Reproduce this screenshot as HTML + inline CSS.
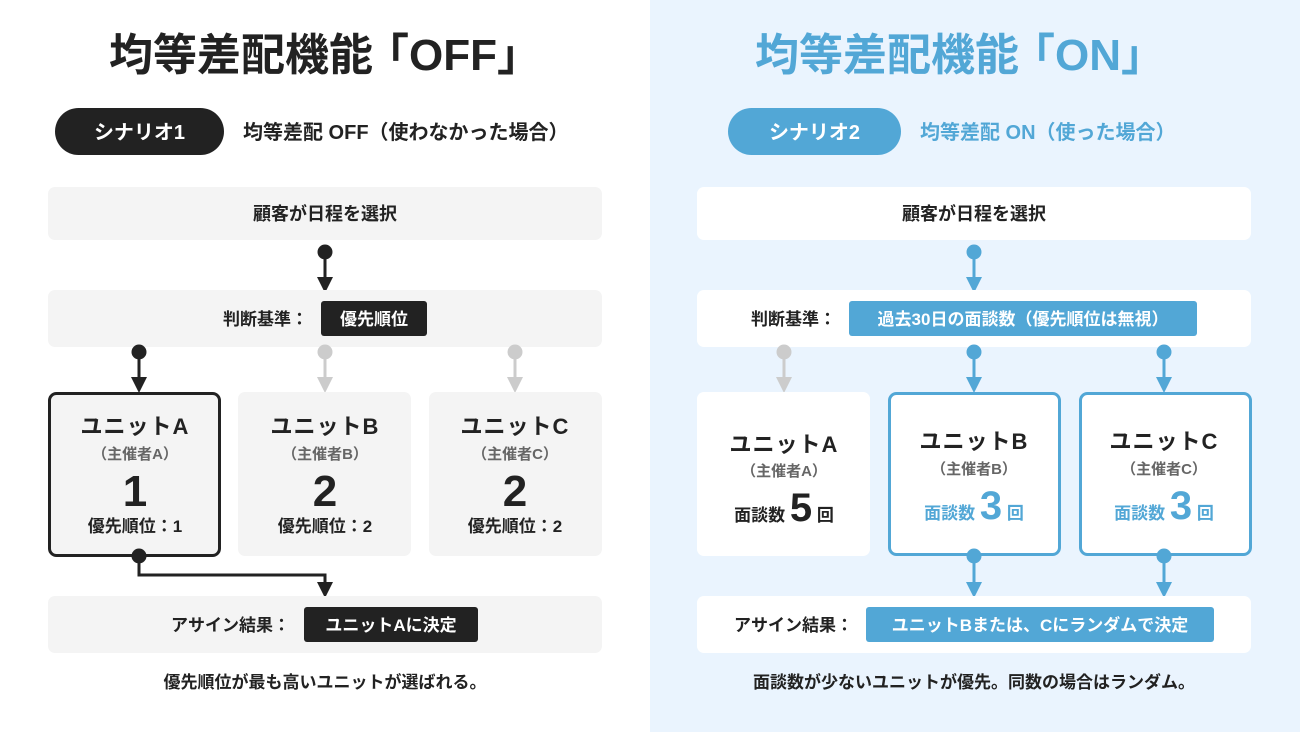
<!DOCTYPE html>
<html><head><meta charset="utf-8"><style>
html,body{margin:0;padding:0;width:1300px;height:732px;overflow:hidden;background:#fff}
svg text{font-family:"Liberation Sans","Noto Sans CJK JP",sans-serif;font-weight:700}
</style></head><body>
<svg width="1300" height="732" viewBox="0 0 1300 732" xmlns="http://www.w3.org/2000/svg">
<rect x="0" y="0" width="650" height="732" fill="#fff"/>
<rect x="650" y="0" width="650" height="732" fill="#eaf4fe"/>

<!-- LEFT -->
<text x="325" y="70" font-size="44" text-anchor="middle" fill="#222">均等差配機能<tspan dx="-8">「OFF」</tspan></text>
<rect x="55" y="108" width="169" height="47" rx="23.5" fill="#222"/>
<text x="139.5" y="139" font-size="20" text-anchor="middle" fill="#fff">シナリオ1</text>
<text x="243" y="139" font-size="20" fill="#222">均等差配 OFF（使わなかった場合）</text>

<rect x="48" y="187" width="554" height="53" rx="7" fill="#f4f4f4"/>
<text x="325" y="220" font-size="18" text-anchor="middle" fill="#222">顧客が日程を選択</text>
<circle cx="325" cy="252" r="7.5" fill="#222"/>
<line x1="325" y1="252" x2="325" y2="280" stroke="#222" stroke-width="3"/>
<path d="M317 277L333 277L325 293Z" fill="#222"/>

<rect x="48" y="290" width="554" height="57" rx="7" fill="#f4f4f4"/>
<text x="308" y="325" font-size="17" text-anchor="end" fill="#222">判断基準：</text>
<rect x="321" y="301" width="106" height="35" rx="3" fill="#222"/>
<text x="374" y="325" font-size="17" text-anchor="middle" fill="#fff">優先順位</text>

<g>
<circle cx="139" cy="352" r="7.5" fill="#222"/><line x1="139" y1="352" x2="139" y2="380" stroke="#222" stroke-width="3"/><path d="M131 377L147 377L139 393Z" fill="#222"/>
<circle cx="325" cy="352" r="7.5" fill="#ccc"/><line x1="325" y1="352" x2="325" y2="380" stroke="#ccc" stroke-width="3"/><path d="M317 377L333 377L325 393Z" fill="#ccc"/>
<circle cx="515" cy="352" r="7.5" fill="#ccc"/><line x1="515" y1="352" x2="515" y2="380" stroke="#ccc" stroke-width="3"/><path d="M507 377L523 377L515 393Z" fill="#ccc"/>
</g>

<rect x="49.5" y="393.5" width="170" height="162" rx="7" fill="#f4f4f4" stroke="#222" stroke-width="3"/>
<rect x="238" y="392" width="173" height="164" rx="7" fill="#f4f4f4"/>
<rect x="429" y="392" width="173" height="164" rx="7" fill="#f4f4f4"/>
<g fill="#222" text-anchor="middle">
<text x="135" y="434" font-size="22" letter-spacing="1">ユニットA</text>
<text x="135" y="459" font-size="15" fill="#666">（主催者A）</text>
<text x="135" y="506" font-size="44">1</text>
<text x="135" y="532" font-size="17">優先順位：1</text>
<text x="325" y="434" font-size="22" letter-spacing="1">ユニットB</text>
<text x="325" y="459" font-size="15" fill="#666">（主催者B）</text>
<text x="325" y="506" font-size="44">2</text>
<text x="325" y="532" font-size="17">優先順位：2</text>
<text x="515" y="434" font-size="22" letter-spacing="1">ユニットC</text>
<text x="515" y="459" font-size="15" fill="#666">（主催者C）</text>
<text x="515" y="506" font-size="44">2</text>
<text x="515" y="532" font-size="17">優先順位：2</text>
</g>
<circle cx="139" cy="556" r="7.5" fill="#222"/>
<polyline points="139,556 139,575 325,575 325,586" fill="none" stroke="#222" stroke-width="3"/>
<path d="M317 582L333 582L325 598Z" fill="#222"/>

<rect x="48" y="596" width="554" height="57" rx="7" fill="#f4f4f4"/>
<text x="290" y="631" font-size="17" text-anchor="end" fill="#222">アサイン結果：</text>
<rect x="304" y="607" width="174" height="35" rx="3" fill="#222"/>
<text x="391" y="631" font-size="17" text-anchor="middle" fill="#fff">ユニットAに決定</text>
<text x="325" y="688" font-size="17" text-anchor="middle" fill="#222">優先順位が最も高いユニットが選ばれる。</text>

<!-- RIGHT -->
<text x="960" y="70" font-size="44" text-anchor="middle" fill="#52a7d6">均等差配機能<tspan dx="-8">「ON」</tspan></text>
<rect x="728" y="108" width="173" height="47" rx="23.5" fill="#52a7d6"/>
<text x="814.5" y="139" font-size="20" text-anchor="middle" fill="#fff">シナリオ2</text>
<text x="920" y="139" font-size="20" fill="#52a7d6">均等差配 ON（使った場合）</text>

<rect x="697" y="187" width="554" height="53" rx="7" fill="#fff"/>
<text x="974" y="220" font-size="18" text-anchor="middle" fill="#222">顧客が日程を選択</text>
<circle cx="974" cy="252" r="7.5" fill="#52a7d6"/>
<line x1="974" y1="252" x2="974" y2="280" stroke="#52a7d6" stroke-width="3"/>
<path d="M966 277L982 277L974 293Z" fill="#52a7d6"/>

<rect x="697" y="290" width="554" height="57" rx="7" fill="#fff"/>
<text x="836" y="325" font-size="17" text-anchor="end" fill="#222">判断基準：</text>
<rect x="849" y="301" width="348" height="35" rx="3" fill="#52a7d6"/>
<text x="1023" y="325" font-size="17" text-anchor="middle" fill="#fff">過去30日の面談数（優先順位は無視）</text>

<circle cx="784" cy="352" r="7.5" fill="#ccc"/><line x1="784" y1="352" x2="784" y2="380" stroke="#ccc" stroke-width="3"/><path d="M776 377L792 377L784 393Z" fill="#ccc"/>
<circle cx="974" cy="352" r="7.5" fill="#52a7d6"/><line x1="974" y1="352" x2="974" y2="380" stroke="#52a7d6" stroke-width="3"/><path d="M966 377L982 377L974 393Z" fill="#52a7d6"/>
<circle cx="1164" cy="352" r="7.5" fill="#52a7d6"/><line x1="1164" y1="352" x2="1164" y2="380" stroke="#52a7d6" stroke-width="3"/><path d="M1156 377L1172 377L1164 393Z" fill="#52a7d6"/>

<rect x="697" y="392" width="173" height="164" rx="7" fill="#fff"/>
<rect x="889.5" y="393.5" width="170" height="161" rx="7" fill="#fff" stroke="#52a7d6" stroke-width="3"/>
<rect x="1080.5" y="393.5" width="170" height="161" rx="7" fill="#fff" stroke="#52a7d6" stroke-width="3"/>
<g text-anchor="middle">
<text x="784" y="452" font-size="22" fill="#222" letter-spacing="1">ユニットA</text>
<text x="784" y="476" font-size="15" fill="#666">（主催者A）</text>
<text x="784" y="521" fill="#222"><tspan font-size="17">面談数 </tspan><tspan font-size="40">5</tspan><tspan font-size="17"> 回</tspan></text>
<text x="974" y="449" font-size="22" fill="#222" letter-spacing="1">ユニットB</text>
<text x="974" y="474" font-size="15" fill="#666">（主催者B）</text>
<text x="974" y="519" fill="#52a7d6"><tspan font-size="17">面談数 </tspan><tspan font-size="40">3</tspan><tspan font-size="17"> 回</tspan></text>
<text x="1164" y="449" font-size="22" fill="#222" letter-spacing="1">ユニットC</text>
<text x="1164" y="474" font-size="15" fill="#666">（主催者C）</text>
<text x="1164" y="519" fill="#52a7d6"><tspan font-size="17">面談数 </tspan><tspan font-size="40">3</tspan><tspan font-size="17"> 回</tspan></text>
</g>
<circle cx="974" cy="556" r="7.5" fill="#52a7d6"/><line x1="974" y1="556" x2="974" y2="586" stroke="#52a7d6" stroke-width="3"/><path d="M966 582L982 582L974 598Z" fill="#52a7d6"/>
<circle cx="1164" cy="556" r="7.5" fill="#52a7d6"/><line x1="1164" y1="556" x2="1164" y2="586" stroke="#52a7d6" stroke-width="3"/><path d="M1156 582L1172 582L1164 598Z" fill="#52a7d6"/>

<rect x="697" y="596" width="554" height="57" rx="7" fill="#fff"/>
<text x="853" y="631" font-size="17" text-anchor="end" fill="#222">アサイン結果：</text>
<rect x="866" y="607" width="348" height="35" rx="3" fill="#52a7d6"/>
<text x="1040" y="631" font-size="17" text-anchor="middle" fill="#fff">ユニットBまたは、Cにランダムで決定</text>
<text x="974" y="688" font-size="17" text-anchor="middle" fill="#222">面談数が少ないユニットが優先。同数の場合はランダム。</text>
</svg>
</body></html>
